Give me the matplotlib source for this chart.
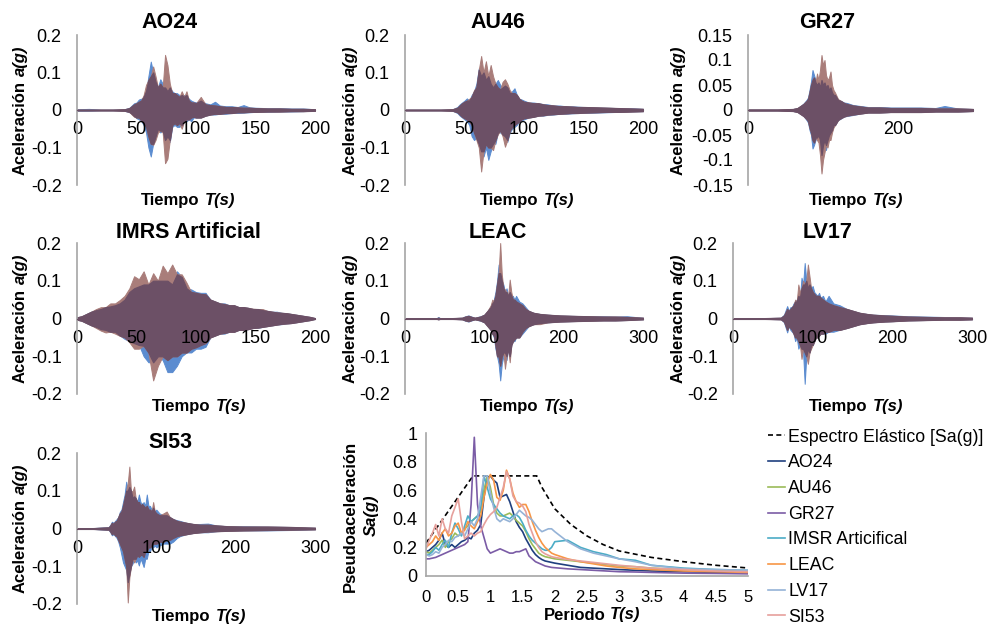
import numpy as np
import matplotlib
matplotlib.use("Agg")
import matplotlib.pyplot as plt

plt.rcParams['font.family'] = ['Liberation Sans', 'DejaVu Sans']
plt.rcParams['axes.unicode_minus'] = False

# ---------------- DATA: acceleration records (peak envelopes) -------------
AO24_t = [0, 10, 20, 30, 40, 44, 46, 48, 50, 52,
          54, 56, 58, 60, 62, 64, 66, 68, 70, 72,
          74, 76, 78, 80, 82, 84, 86, 88, 90, 92,
          94, 96, 98, 100, 104, 108, 112, 116, 120, 125,
          130, 135, 140, 145, 150, 160, 170, 180, 190, 200]
AO24_blue_hi = [.002, .003, .001, .001, .002, .006, .012, .018, .020, .028,
                .030, .035, .050, .090, .129, .100, .075, .060, .082, .070,
                .060, .050, .060, .050, .045, .045, .040, .040, .040, .040,
                .030, .025, .022, .020, .025, .018, .015, .022, .012, .010,
                .010, .008, .013, .007, .006, .005, .005, .004, .004, .002]
AO24_blue_lo = [-.002, -.002, -.001, -.001, -.002, -.006, -.010, -.016, -.022, -.025,
                -.030, -.040, -.060, -.100, -.124, -.090, -.070, -.050, -.060, -.055,
                -.080, -.070, -.085, -.045, -.040, -.045, -.045, -.040, -.030, -.030,
                -.025, -.030, -.020, -.020, -.020, -.015, -.012, -.012, -.010, -.010,
                -.008, -.008, -.007, -.006, -.005, -.005, -.004, -.004, -.003, -.002]
AO24_brown_hi = [.001, .001, .001, .001, .002, .005, .010, .015, .018, .022,
                 .025, .040, .067, .080, .090, .116, .090, .060, .070, .060,
                 .147, .120, .070, .045, .045, .040, .035, .050, .035, .050,
                 .025, .020, .020, .018, .035, .015, .013, .012, .010, .008,
                 .008, .007, .006, .006, .005, .004, .004, .003, .003, .002]
AO24_brown_lo = [-.001, -.001, -.001, -.001, -.002, -.005, -.012, -.018, -.020, -.020,
                 -.028, -.035, -.044, -.070, -.090, -.093, -.080, -.060, -.055, -.060,
                 -.142, -.130, -.080, -.040, -.035, -.040, -.035, -.050, -.030, -.025,
                 -.025, -.020, -.018, -.020, -.020, -.015, -.012, -.010, -.010, -.008,
                 -.008, -.006, -.006, -.005, -.005, -.004, -.004, -.003, -.003, -.002]

AU46_t = [0, 10, 20, 30, 40, 44, 46, 48, 50, 52,
          54, 56, 58, 60, 62, 64, 66, 68, 70, 72,
          74, 76, 78, 80, 82, 84, 86, 88, 90, 92,
          94, 96, 98, 100, 104, 108, 112, 116, 120, 125,
          130, 135, 140, 145, 150, 160, 170, 180, 190, 200]
AU46_blue_hi = [.001, .001, .001, .001, .002, .008, .015, .020, .025, .031,
                .025, .040, .050, .070, .111, .090, .107, .080, .090, .070,
                .060, .070, .080, .067, .060, .065, .060, .045, .050, .058,
                .040, .030, .028, .025, .020, .020, .018, .016, .015, .012,
                .012, .010, .010, .009, .008, .007, .006, .005, .005, .003]
AU46_blue_lo = [-.001, -.001, -.001, -.001, -.002, -.008, -.015, -.020, -.025, -.030,
                -.040, -.070, -.080, -.075, -.090, -.110, -.124, -.100, -.133, -.110,
                -.090, -.090, -.060, -.060, -.065, -.070, -.085, -.060, -.050, -.045,
                -.040, -.030, -.028, -.025, -.020, -.018, -.015, -.015, -.013, -.012,
                -.010, -.010, -.009, -.008, -.008, -.007, -.006, -.005, -.004, -.003]
AU46_brown_hi = [.001, .001, .001, .001, .002, .006, .012, .018, .022, .025,
                 .030, .035, .053, .060, .107, .144, .100, .130, .090, .120,
                 .090, .070, .060, .055, .075, .082, .070, .053, .045, .045,
                 .040, .030, .025, .022, .020, .018, .018, .015, .013, .012,
                 .010, .010, .009, .008, .008, .007, .006, .005, .004, .003]
AU46_brown_lo = [-.001, -.001, -.001, -.001, -.002, -.006, -.012, -.018, -.022, -.025,
                 -.030, -.040, -.060, -.080, -.100, -.164, -.110, -.090, -.100, -.100,
                 -.107, -.080, -.065, -.055, -.070, -.098, -.080, -.055, -.045, -.040,
                 -.035, -.030, -.025, -.022, -.020, -.018, -.015, -.014, -.012, -.011,
                 -.010, -.009, -.008, -.008, -.007, -.006, -.005, -.005, -.004, -.003]

GR27_t = [0, 20, 40, 60, 66, 70, 74, 78, 80, 82,
          84, 86, 88, 90, 92, 94, 96, 98, 100, 102,
          104, 106, 108, 110, 112, 114, 116, 120, 124, 128,
          132, 140, 150, 160, 175, 190, 210, 230, 250, 262, 280, 300]
GR27_blue_hi = [.001, .001, .001, .002, .004, .008, .013, .020, .025, .040,
                .057, .080, .070, .060, .050, .055, .045, .060, .050, .055,
                .045, .050, .040, .045, .035, .030, .030, .020, .018, .015,
                .014, .010, .008, .006, .006, .005, .005, .005, .004, .008, .003, .002]
GR27_blue_lo = [-.001, -.001, -.001, -.002, -.004, -.008, -.012, -.020, -.025, -.040,
                -.050, -.077, -.070, -.060, -.055, -.050, -.060, -.090, -.070, -.060,
                -.080, -.060, -.050, -.045, -.040, -.030, -.030, -.020, -.017, -.013,
                -.012, -.010, -.007, -.005, -.005, -.004, -.004, -.004, -.003, -.003, -.003, -.002]
GR27_brown_hi = [.001, .001, .001, .002, .004, .008, .012, .018, .022, .035,
                 .050, .060, .065, .055, .073, .060, .080, .110, .090, .100,
                 .070, .060, .065, .077, .050, .040, .035, .022, .018, .014,
                 .012, .009, .007, .005, .005, .004, .004, .004, .003, .003, .003, .002]
GR27_brown_lo = [-.001, -.001, -.001, -.002, -.004, -.008, -.012, -.018, -.022, -.035,
                 -.045, -.060, -.065, -.055, -.060, -.065, -.090, -.127, -.100, -.085,
                 -.070, -.075, -.060, -.060, -.045, -.035, -.030, -.020, -.016, -.013,
                 -.011, -.009, -.007, -.005, -.005, -.004, -.004, -.004, -.003, -.003, -.003, -.002]

IMRS_t = [0, 4, 8, 12, 16, 20, 24, 28, 32, 36,
          40, 44, 48, 52, 56, 60, 64, 68, 72, 76,
          80, 84, 88, 92, 96, 100, 104, 108, 112, 116,
          120, 124, 128, 132, 136, 140, 144, 148, 152, 156,
          160, 164, 168, 172, 176, 180, 184, 188, 192, 196, 200]
IMRS_blue_hi = [.003, .006, .012, .018, .022, .025, .030, .032, .035, .040,
                .050, .070, .080, .085, .090, .090, .100, .100, .100, .100,
                .090, .125, .110, .080, .077, .070, .068, .068, .050, .045,
                .040, .040, .035, .035, .030, .030, .028, .025, .025, .022,
                .020, .018, .018, .015, .014, .012, .010, .008, .006, .004, .001]
IMRS_blue_lo = [-.003, -.006, -.012, -.018, -.022, -.028, -.030, -.035, -.035, -.045,
                -.054, -.060, -.065, -.070, -.100, -.116, -.116, -.100, -.110, -.142,
                -.142, -.125, -.100, -.090, -.090, -.080, -.080, -.075, -.050, -.045,
                -.040, -.040, -.035, -.035, -.030, -.030, -.028, -.025, -.025, -.022,
                -.020, -.018, -.016, -.015, -.013, -.012, -.010, -.008, -.006, -.004, -.001]
IMRS_brown_hi = [.003, .006, .012, .018, .025, .030, .030, .040, .040, .049,
                 .060, .080, .112, .104, .125, .090, .120, .100, .140, .120,
                 .143, .117, .117, .095, .070, .068, .065, .064, .050, .045,
                 .040, .038, .035, .035, .030, .030, .028, .026, .025, .025,
                 .020, .018, .016, .015, .014, .012, .010, .008, .006, .004, .001]
IMRS_brown_lo = [-.003, -.006, -.012, -.018, -.025, -.032, -.037, -.035, -.040, -.046,
                 -.050, -.063, -.080, -.080, -.072, -.090, -.164, -.125, -.100, -.110,
                 -.100, -.100, -.090, -.090, -.080, -.076, -.070, -.065, -.050, -.045,
                 -.040, -.038, -.035, -.035, -.030, -.030, -.028, -.025, -.024, -.022,
                 -.020, -.018, -.016, -.014, -.013, -.012, -.010, -.008, -.006, -.004, -.001]

LEAC_t = [0, 20, 40, 42, 44, 60, 72, 76, 80, 84, 88, 95, 100, 104, 108,
          110, 112, 114, 116, 118, 120, 122, 124, 126, 128, 130, 132, 134, 136, 138, 140,
          144, 148, 152, 156, 162, 170, 180, 195, 210, 230, 250, 265, 280, 300]
LEAC_blue_hi = [.001, .001, .001, .004, .001, .001, .002, .006, .008, .005, .002, .006, .010, .020, .030,
                .040, .050, .070, .099, .143, .120, .100, .090, .070, .080, .060, .070, .060, .060, .050, .060,
                .045, .040, .030, .020, .015, .012, .010, .008, .007, .006, .006, .005, .006, .002]
LEAC_blue_lo = [-.001, -.001, -.001, -.002, -.001, -.001, -.002, -.006, -.008, -.005, -.002, -.006, -.010, -.020, -.030,
                -.040, -.050, -.080, -.100, -.120, -.164, -.120, -.100, -.090, -.110, -.080, -.100, -.070, -.060, -.060, -.050,
                -.050, -.040, -.030, -.020, -.015, -.012, -.010, -.008, -.007, -.006, -.005, -.005, -.004, -.002]
LEAC_brown_hi = [.001, .001, .001, .002, .001, .001, .002, .005, .007, .004, .002, .005, .010, .020, .035,
                 .050, .045, .060, .090, .120, .200, .117, .080, .077, .070, .060, .103, .070, .050, .050, .045,
                 .040, .035, .025, .020, .015, .012, .010, .008, .007, .006, .005, .005, .004, .002]
LEAC_brown_lo = [-.001, -.001, -.001, -.002, -.001, -.001, -.002, -.005, -.007, -.004, -.002, -.005, -.010, -.020, -.030,
                 -.040, -.045, -.070, -.100, -.100, -.125, -.100, -.090, -.133, -.100, -.080, -.116, -.070, -.060, -.055, -.050,
                 -.050, -.035, -.025, -.020, -.015, -.015, -.010, -.008, -.007, -.006, -.005, -.005, -.004, -.002]

LV17_t = [0, 20, 40, 60, 64,
          68, 70, 72, 74, 76, 78, 80, 82, 84, 86, 88, 90, 92, 94, 96, 98, 100, 102, 104, 106, 108, 110,
          113, 116, 120, 126, 134, 143, 151, 159, 168, 176, 190, 201, 220, 243, 265, 285, 300]
LV17_blue_hi = [.001, .001, .001, .002, .010,
                .033, .020, .030, .030, .040, .045, .050, .060, .055, .108, .090, .147, .100, .080, .090, .080, .086, .070, .065, .060, .068, .055,
                .060, .045, .060, .040, .035, .025, .020, .015, .012, .010, .009, .008, .006, .005, .004, .003, .002]
LV17_blue_lo = [-.001, -.001, -.001, -.002, -.010,
                -.037, -.020, -.030, -.035, -.040, -.060, -.050, -.080, -.070, -.080, -.090, -.173, -.100, -.080, -.090, -.070, -.070, -.060, -.050, -.050, -.045, -.040,
                -.040, -.040, -.035, -.035, -.030, -.025, -.020, -.015, -.012, -.010, -.008, -.007, -.005, -.004, -.003, -.003, -.002]
LV17_brown_hi = [.001, .001, .001, .002, .008,
                 .025, .020, .025, .030, .035, .050, .045, .090, .070, .080, .100, .090, .100, .143, .112, .080, .070, .065, .060, .060, .060, .055,
                 .050, .045, .040, .035, .030, .025, .020, .015, .012, .010, .008, .007, .005, .004, .003, .003, .002]
LV17_brown_lo = [-.001, -.001, -.001, -.002, -.008,
                 -.030, -.020, -.025, -.030, -.040, -.050, -.050, -.060, -.070, -.107, -.080, -.090, -.100, -.120, -.090, -.080, -.070, -.060, -.050, -.050, -.045, -.040,
                 -.040, -.035, -.035, -.030, -.030, -.025, -.020, -.015, -.012, -.010, -.008, -.007, -.005, -.004, -.003, -.003, -.002]

SI53_t = [0, 20,
          40, 42, 44, 46, 48, 50, 52, 54, 56, 58, 60, 62, 64, 66, 68, 70, 72, 74, 76, 78,
          80, 82, 84, 86, 88, 90, 92, 94, 96, 98, 100,
          104, 109, 113, 117, 121, 126, 130, 138, 146, 155, 165, 176, 190, 210, 240, 270, 300]
SI53_blue_hi = [.001, .001,
                .004, .010, .018, .015, .020, .025, .030, .044, .050, .070, .090, .124, .100, .110, .100, .080, .085, .080, .070, .090,
                .070, .065, .070, .060, .090, .060, .060, .050, .055, .045, .050,
                .040, .035, .035, .030, .025, .022, .020, .015, .012, .012, .013, .008, .006, .006, .005, .004, .002]
SI53_blue_lo = [-.001, -.001,
                -.004, -.010, -.018, -.015, -.020, -.025, -.035, -.050, -.070, -.090, -.100, -.110, -.142, -.120, -.100, -.093, -.080, -.090, -.085, -.098,
                -.080, -.090, -.102, -.080, -.080, -.060, -.060, -.050, -.050, -.045, -.050,
                -.045, -.040, -.040, -.040, -.035, -.025, -.020, -.015, -.012, -.010, -.010, -.007, -.006, -.005, -.005, -.004, -.002]
SI53_brown_hi = [.001, .001,
                 .003, .008, .015, .012, .018, .020, .030, .040, .045, .060, .080, .100, .120, .164, .100, .098, .111, .080, .070, .070,
                 .060, .065, .060, .055, .060, .050, .050, .045, .070, .045, .040,
                 .035, .040, .045, .030, .025, .020, .018, .015, .012, .010, .010, .008, .006, .005, .005, .004, .002]
SI53_brown_lo = [-.001, -.001,
                 -.003, -.008, -.015, -.012, -.018, -.020, -.030, -.040, -.050, -.060, -.080, -.100, -.196, -.130, -.100, -.080, -.090, -.080, -.070, -.075,
                 -.070, -.070, -.075, -.060, -.060, -.050, -.050, -.045, -.040, -.040, -.040,
                 -.035, -.035, -.030, -.030, -.025, -.020, -.018, -.015, -.012, -.010, -.008, -.007, -.006, -.005, -.004, -.003, -.002]

TITLES = ["AO24", "AU46", "GR27", "IMRS Artificial", "LEAC", "LV17", "SI53"]
X_TICKS_200 = [0, 50, 100, 150, 200]
X_TICKS_300 = [0, 100, 200, 300]
X_TICKS_GR = [0, 200]
Y_TICKS_02 = [-0.2, -0.1, 0, 0.1, 0.2]
Y_TICKS_015 = [-0.15, -0.1, -0.05, 0, 0.05, 0.1, 0.15]

# ---------------- DATA: response spectra ----------------
PERIOD = [0, .05, .1, .15, .2, .25, .3, .35, .4, .45,
          .5, .55, .6, .65, .7, .75, .8, .85, .9, .95,
          1.0, 1.05, 1.1, 1.15, 1.2, 1.25, 1.3, 1.35, 1.4, 1.45,
          1.5, 1.55, 1.6, 1.65, 1.7, 1.75, 1.8, 1.85, 1.9, 1.95,
          2.0, 2.2, 2.4, 2.6, 2.8, 3.0, 3.25, 3.5, 4.0, 4.5, 5.0]
SA_AO24 = [.17, .18, .20, .22, .25, .30, .22, .20, .22, .20,
           .22, .24, .25, .27, .26, .30, .32, .36, .55, .69,
           .70, .67, .65, .55, .56, .57, .52, .45, .38, .34,
           .31, .26, .22, .18, .15, .13, .115, .105, .10, .095,
           .09, .075, .06, .055, .05, .045, .04, .035, .03, .025, .02]
SA_AU46 = [.17, .16, .18, .20, .22, .25, .20, .24, .26, .30,
           .28, .30, .33, .35, .38, .40, .42, .45, .60, .70,
           .62, .50, .44, .42, .42, .43, .44, .42, .39, .37,
           .35, .31, .26, .22, .19, .16, .145, .135, .13, .125,
           .12, .11, .10, .09, .08, .07, .065, .055, .045, .04, .035]
SA_GR27 = [.12, .12, .125, .13, .14, .15, .16, .17, .18, .19,
           .20, .21, .22, .24, .50, .97, .50, .35, .27, .19,
           .16, .17, .18, .19, .18, .17, .16, .16, .17, .17,
           .18, .19, .14, .12, .10, .09, .08, .07, .065, .06,
           .058, .05, .045, .04, .035, .03, .028, .025, .02, .018, .015]
SA_IMSR = [.15, .15, .17, .20, .18, .22, .25, .20, .30, .37,
           .33, .28, .35, .42, .38, .40, .42, .47, .70, .62,
           .54, .50, .47, .44, .42, .41, .40, .42, .43, .41,
           .37, .32, .28, .25, .23, .21, .19, .18, .18, .20,
           .24, .25, .20, .17, .15, .12, .11, .075, .055, .045, .04]
SA_LEAC = [.20, .22, .24, .28, .25, .30, .33, .28, .30, .35,
           .37, .30, .32, .38, .35, .33, .38, .42, .55, .65,
           .71, .67, .55, .53, .60, .74, .68, .58, .52, .48,
           .50, .50, .45, .38, .32, .27, .23, .20, .18, .16,
           .15, .12, .10, .085, .07, .06, .05, .045, .035, .03, .025]
SA_LV17 = [.15, .14, .15, .17, .16, .20, .22, .25, .24, .27,
           .28, .30, .28, .33, .38, .35, .40, .55, .70, .70,
           .58, .48, .40, .38, .40, .39, .38, .40, .43, .46,
           .44, .42, .41, .39, .36, .33, .31, .32, .33, .33,
           .31, .24, .19, .16, .14, .12, .10, .075, .05, .045, .04]
SA_SI53 = [.19, .25, .30, .36, .28, .40, .33, .30, .42, .48,
           .54, .38, .26, .28, .30, .28, .30, .31, .36, .40,
           .43, .45, .48, .55, .62, .73, .68, .56, .52, .51,
           .49, .45, .36, .30, .24, .20, .17, .155, .145, .135,
           .13, .115, .105, .095, .085, .075, .065, .055, .045, .035, .03]
DESIGN_T = [0, 0.73, 1.72, 1.8, 2.0, 2.25, 2.5, 2.75, 3.0, 3.5, 4.0, 4.5, 5.0]
DESIGN_SA = [0.23, 0.70, 0.70, 0.62, 0.47, 0.36, 0.28, 0.22, 0.175, 0.13, 0.10, 0.075, 0.056]
SPEC_LABELS = ["Espectro Elástico [Sa(g)]", "AO24", "AU46", "GR27", "IMSR Articifical",
               "LEAC", "LV17", "SI53"]
SPEC_X_TICKS = [0, 0.5, 1, 1.5, 2, 2.5, 3, 3.5, 4, 4.5, 5]
SPEC_Y_TICKS = [0, 0.2, 0.4, 0.6, 0.8, 1]

# ---------------- STYLE / LAYOUT ----------------
W, H = 988, 627
BLUE = '#5B8CD0'
BROWN = '#A97D7A'
DARK = '#6C5066'
SPINE = '#A6A6A6'
SPEC_COLORS = ['#1F3F7F', '#9BBB59', '#7B5CA6', '#4BACC6', '#F79646', '#95B3D7', '#E6A09C']
TICK_SIZE = 13
LABEL_SIZE = 12
TITLE_SIZE = 15.5

fig = plt.figure(figsize=(W / 100, H / 100), dpi=100)


def px_axes(l, t, r, b):
    return fig.add_axes([l / W, 1 - b / H, (r - l) / W, (b - t) / H])


def fmt(v):
    return f"{v:g}"


renderer = fig.canvas.get_renderer()


def two_part(cx, cy, a, b, rot=0, size=12):
    t1 = fig.text(0, 0, a, fontsize=size, fontweight='bold', rotation=rot, color='black')
    t2 = fig.text(0, 0, b, fontsize=size, fontweight='bold', style='italic', rotation=rot, color='black')
    e1 = t1.get_window_extent(renderer)
    e2 = t2.get_window_extent(renderer)
    gap = 0.278 * size * 100 / 72
    if rot == 0:
        total = e1.width + gap + e2.width
        x0 = cx - total / 2
        t1.set_position((x0 / W, 1 - cy / H)); t1.set_ha('left'); t1.set_va('center')
        t2.set_position(((x0 + e1.width + gap) / W, 1 - cy / H)); t2.set_ha('left'); t2.set_va('center')
    else:
        total = e1.height + gap + e2.height
        y0 = (H - cy) - total / 2
        t1.set_position((cx / W, y0 / H)); t1.set_ha('center'); t1.set_va('bottom')
        t2.set_position((cx / W, (y0 + e1.height + gap) / H)); t2.set_ha('center'); t2.set_va('bottom')


records = [
    (AO24_t, AO24_blue_hi, AO24_blue_lo, AO24_brown_hi, AO24_brown_lo),
    (AU46_t, AU46_blue_hi, AU46_blue_lo, AU46_brown_hi, AU46_brown_lo),
    (GR27_t, GR27_blue_hi, GR27_blue_lo, GR27_brown_hi, GR27_brown_lo),
    (IMRS_t, IMRS_blue_hi, IMRS_blue_lo, IMRS_brown_hi, IMRS_brown_lo),
    (LEAC_t, LEAC_blue_hi, LEAC_blue_lo, LEAC_brown_hi, LEAC_brown_lo),
    (LV17_t, LV17_blue_hi, LV17_blue_lo, LV17_brown_hi, LV17_brown_lo),
    (SI53_t, SI53_blue_hi, SI53_blue_lo, SI53_brown_hi, SI53_brown_lo),
]
boxes = [(77, 35, 315, 185), (405, 35, 643, 185), (748, 35, 973, 185),
         (77, 243, 315, 394), (405, 243, 643, 394), (733, 243, 972, 394),
         (77, 453, 315, 604)]
title_pos = [(170, 23), (498, 23), (827, 23), (188, 232), (498, 232), (828, 232), (170, 442)]
xlab_pos = [(188, 200), (527, 200), (856, 200), (199, 407), (527, 407), (856, 407), (199, 617)]
ylab_x = [20, 350, 678, 20, 350, 678, 20]
xlims = [200, 200, 300, 200, 300, 300, 300]
xticks = [X_TICKS_200, X_TICKS_200, X_TICKS_GR, X_TICKS_200, X_TICKS_300, X_TICKS_300, X_TICKS_300]
yticks = [Y_TICKS_02, Y_TICKS_02, Y_TICKS_015, Y_TICKS_02, Y_TICKS_02, Y_TICKS_02, Y_TICKS_02]

for i, (rec, box) in enumerate(zip(records, boxes)):
    t, bh, bl, rh, rl = [np.asarray(v, dtype=float) for v in rec]
    ax = px_axes(*box)
    ax.fill_between(t, bl, bh, color=BLUE, lw=0.7, zorder=0.5)
    ax.fill_between(t, rl, rh, color=BROWN, lw=0.7, zorder=0.6)
    ax.fill_between(t, np.maximum(bl, rl), np.minimum(bh, rh), color=DARK, lw=0.9, zorder=0.7)
    ax.set_xlim(0, xlims[i])
    yt = yticks[i]
    ax.set_ylim(yt[0], yt[-1])
    ax.set_yticks(yt, labels=[fmt(v) for v in yt])
    ax.set_xticks(xticks[i], labels=[fmt(v) for v in xticks[i]])
    for s in ['top', 'right']:
        ax.spines[s].set_visible(False)
    ax.spines['left'].set_color(SPINE)
    ax.spines['left'].set_linewidth(1.2)
    ax.spines['bottom'].set_position(('data', 0))
    ax.spines['bottom'].set_color(DARK)
    ax.spines['bottom'].set_linewidth(0.8)
    ax.tick_params(axis='y', length=0, pad=11, labelsize=TICK_SIZE)
    ax.tick_params(axis='x', length=0, pad=8, labelsize=TICK_SIZE)
    ax.patch.set_visible(False)
    fig.text(title_pos[i][0] / W, 1 - title_pos[i][1] / H, TITLES[i], fontsize=TITLE_SIZE,
             fontweight='bold', ha='center', va='center')
    two_part(xlab_pos[i][0], xlab_pos[i][1], "Tiempo", "T(s)", 0, LABEL_SIZE)
    two_part(ylab_x[i], (box[1] + box[3]) / 2, "Aceleración", "a(g)", 90, LABEL_SIZE)

# ---------------- spectrum ----------------
ax = px_axes(426, 433, 748, 576)
handles = []
h, = ax.plot(DESIGN_T, DESIGN_SA, color='black', ls=(0, (3, 2)), lw=1.2)
handles.append(h)
for sa, c in zip([SA_AO24, SA_AU46, SA_GR27, SA_IMSR, SA_LEAC, SA_LV17, SA_SI53], SPEC_COLORS):
    h, = ax.plot(PERIOD, sa, color=c, lw=1.2)
    handles.append(h)
ax.set_xlim(0, 5)
ax.set_ylim(0, 1)
ax.set_xticks(SPEC_X_TICKS, labels=[fmt(v) for v in SPEC_X_TICKS])
ax.set_yticks(SPEC_Y_TICKS, labels=[fmt(v) for v in SPEC_Y_TICKS])
for s in ['top', 'right']:
    ax.spines[s].set_visible(False)
for s in ['left', 'bottom']:
    ax.spines[s].set_color(SPINE)
    ax.spines[s].set_linewidth(1.2)
ax.tick_params(axis='y', length=0, pad=6, labelsize=TICK_SIZE)
ax.tick_params(axis='x', length=0, pad=10, labelsize=12)
ax.patch.set_visible(False)
two_part(592, 615, "Periodo", "T(s)", 0, LABEL_SIZE)
fig.text(350 / W, 1 - 516 / H, "Pseudoaceleración", fontsize=LABEL_SIZE, fontweight='bold',
         rotation=90, ha='center', va='center')
fig.text(371 / W, 1 - 515 / H, "Sa(g)", fontsize=LABEL_SIZE, fontweight='bold', style='italic',
         rotation=90, ha='center', va='center')

leg = fig.legend(handles, SPEC_LABELS, loc='upper left', bbox_to_anchor=(760.5 / W, 1 - 421.5 / H),
                 frameon=False, fontsize=12.8, handlelength=1.0, handletextpad=0.15,
                 labelspacing=0.49, borderaxespad=0, borderpad=0.4)

fig.savefig("out.png", dpi=100, facecolor='white')
